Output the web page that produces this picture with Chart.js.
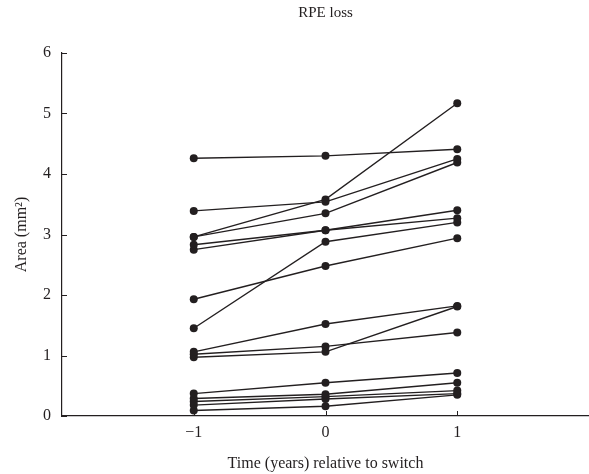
<!DOCTYPE html>
<html>
<head>
<meta charset="utf-8">
<script src="https://cdn.jsdelivr.net/npm/chart.js@4/dist/chart.umd.min.js"></script>
<style>
  html, body { margin: 0; padding: 0; background: #fff; overflow: hidden; }
  #wrap { width: 589px; height: 474px; }
</style>
</head>
<body>
<div id="wrap"><canvas id="rpeChart"></canvas></div>
<script>
// 時点（切替前後の年）
const timePoints = [-1, 0, 1];
const xTickValues = [-1, 0, 1];
const yTickValues = [0, 1, 2, 3, 4, 5, 6];
const chartTitle = 'RPE loss';

// 各眼ごとのRPE喪失面積 (mm²)
const eye01 = [4.26, 4.30, 4.41];
const eye02 = [3.39, 3.54, 4.25];
const eye03 = [2.96, 3.58, 5.17];
const eye04 = [2.96, 3.35, 4.19];
const eye05 = [2.83, 3.07, 3.40];
const eye06 = [2.75, 3.07, 3.27];
const eye07 = [1.45, 2.88, 3.20];
const eye08 = [1.93, 2.48, 2.94];
const eye09 = [1.06, 1.52, 1.82];
const eye10 = [1.02, 1.15, 1.38];
const eye11 = [0.97, 1.06, 1.81];
const eye12 = [0.37, 0.55, 0.71];
const eye13 = [0.29, 0.36, 0.55];
const eye14 = [0.24, 0.32, 0.42];
const eye15 = [0.18, 0.28, 0.37];
const eye16 = [0.09, 0.16, 0.35];

const allEyes = [eye01, eye02, eye03, eye04, eye05, eye06, eye07, eye08,
                 eye09, eye10, eye11, eye12, eye13, eye14, eye15, eye16];

const INK = '#231f20';
const FONT = "'Liberation Serif', 'DejaVu Serif', serif";

// 内向きの目盛り線とプロット中央のタイトルを描く
const innerTicks = {
    id: 'innerTicks',
    afterDraw(chart) {
        const ctx = chart.ctx;
        const xs = chart.scales.x;
        const ys = chart.scales.y;
        const area = chart.chartArea;
        ctx.save();
        ctx.strokeStyle = INK;
        ctx.lineWidth = 1;
        yTickValues.forEach(v => {
            const py = Math.round(ys.getPixelForValue(v)) + 0.5;
            ctx.beginPath();
            ctx.moveTo(area.left, py);
            ctx.lineTo(area.left + 5, py);
            ctx.stroke();
        });
        xTickValues.forEach(v => {
            const px = Math.round(xs.getPixelForValue(v)) + 0.5;
            ctx.beginPath();
            ctx.moveTo(px, area.bottom);
            ctx.lineTo(px, area.bottom - 5);
            ctx.stroke();
        });
        // タイトル（プロット領域の中央）
        ctx.fillStyle = INK;
        ctx.font = '15px ' + FONT;
        ctx.textAlign = 'center';
        ctx.textBaseline = 'middle';
        ctx.fillText(chartTitle, (area.left + area.right) / 2, 13);
        ctx.restore();
    }
};

const datasets = allEyes.map((vals, i) => ({
    label: 'eye' + (i + 1),
    data: vals.map((v, j) => ({ x: timePoints[j], y: v })),
    borderColor: INK,
    backgroundColor: INK,
    borderWidth: 1.4,
    pointRadius: 4,
    pointHoverRadius: 4,
    pointBorderWidth: 0,
    tension: 0,
    clip: false
}));

new Chart(document.getElementById('rpeChart'), {
    type: 'line',
    data: { datasets },
    options: {
        responsive: true,
        maintainAspectRatio: false,
        animation: false,
        layout: { autoPadding: false, padding: { left: 0, right: 0, top: 53, bottom: 0 } },
        plugins: {
            legend: { display: false },
            tooltip: { enabled: false },
            title: { display: false }
        },
        scales: {
            x: {
                type: 'linear',
                min: -2,
                max: 2,
                afterBuildTicks(scale) {
                    scale.ticks = xTickValues.map(v => ({ value: v }));
                },
                afterFit(scale) { scale.height = 58; },
                grid: { display: false, drawTicks: false },
                border: { display: true, color: INK, width: 1.2 },
                ticks: {
                    color: INK,
                    padding: 7,
                    font: { family: FONT, size: 16 },
                    callback: v => (v < 0 ? '\u2212' + Math.abs(v) : String(v))
                },
                title: {
                    display: true,
                    text: 'Time (years) relative to switch',
                    color: INK,
                    font: { family: FONT, size: 16 },
                    padding: { top: 4, bottom: 1 }
                }
            },
            y: {
                min: 0,
                max: 6,
                afterBuildTicks(scale) {
                    scale.ticks = yTickValues.map(v => ({ value: v }));
                },
                afterFit(scale) { scale.width = 62; },
                grid: { display: false, drawTicks: false },
                border: { display: true, color: INK, width: 1.2 },
                ticks: {
                    color: INK,
                    padding: 11,
                    font: { family: FONT, size: 16 }
                },
                title: {
                    display: true,
                    text: 'Area (mm\u00b2)',
                    color: INK,
                    font: { family: FONT, size: 16 },
                    padding: { top: 12, bottom: 0 }
                }
            }
        }
    },
    plugins: [innerTicks]
});
</script>
</body>
</html>
